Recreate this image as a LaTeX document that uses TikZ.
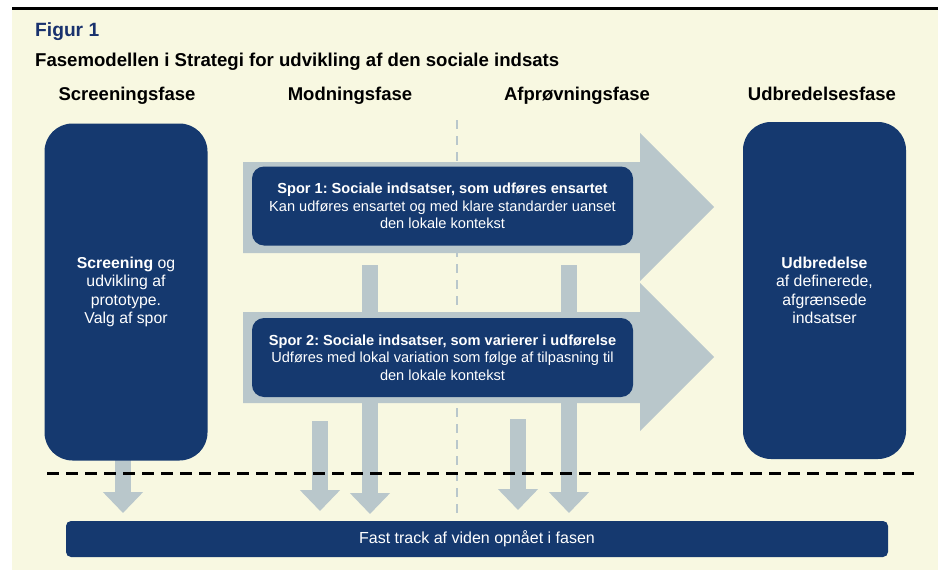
\documentclass[tikz,border=0pt]{standalone}
\usepackage{fontspec}
\setmainfont{Liberation Sans}
\usetikzlibrary{arrows.meta}
\definecolor{cream}{RGB}{248,248,225}
\definecolor{navy}{RGB}{21,57,111}
\definecolor{agray}{RGB}{185,199,203}
\definecolor{tblue}{RGB}{25,50,110}
\frenchspacing
\begin{document}
\begin{tikzpicture}[x=1pt,y=-1pt,
  tall/.style={fill=navy, rounded corners=28pt, minimum width=163pt, minimum height=337pt, text=white, align=center, font=\fontsize{15.8}{18.5}\selectfont, inner sep=0pt},
  sporbox/.style={fill=navy, rounded corners=12pt, minimum width=381pt, minimum height=79pt, text=white, align=center, font=\fontsize{14.6}{17.5}\selectfont, inner sep=0pt},
  phase/.style={font=\bfseries\fontsize{18.5}{20}\selectfont, anchor=base, inner sep=0pt},
  downarrow/.style={draw=agray, line width=15.5pt, -{Triangle[width=39pt,length=21pt]}},
  bigarrow/.style={fill=agray},
]
\useasboundingbox (0,0) rectangle (938,570);
\fill[cream] (12,10) rectangle (938,570);
\draw[line width=3pt] (12,8.5) -- (938,8.5);

\node[anchor=base west, inner sep=0pt, text=tblue, font=\bfseries\fontsize{19.2}{22}\selectfont] (fig) at (35,36) {Figur 1};
\node[anchor=base west, inner sep=0pt, font=\bfseries\fontsize{18.6}{20}\selectfont] (sub) at (35,66) {Fasemodellen i Strategi for udvikling af den sociale indsats};

\node[phase] (h1) at (127,100) {Screeningsfase};
\node[phase] (h2) at (350,100) {Modningsfase};
\node[phase] (h3) at (577,100) {Afprøvningsfase};
\node[phase] (h4) at (822,100) {Udbredelsesfase};

% vertical dashed divider
\coordinate (vt) at (457,120);
\coordinate (vb) at (457,520);
\draw[agray, line width=2.5pt, dash pattern=on 9pt off 7pt] (vt) -- (vb);

% down arrows
\coordinate (a0s) at (123,455); \coordinate (a0e) at (123,513);
\coordinate (a1s) at (320,421); \coordinate (a1e) at (320,511);
\coordinate (a2s) at (370,265); \coordinate (a2e) at (370,514);
\coordinate (a3s) at (518,419); \coordinate (a3e) at (518,510);
\coordinate (a4s) at (569,265); \coordinate (a4e) at (569,513);
\draw[downarrow] (a0s) -- (a0e);
\draw[downarrow] (a1s) -- (a1e);
\draw[downarrow] (a2s) -- (a2e);
\draw[downarrow] (a3s) -- (a3e);
\draw[downarrow] (a4s) -- (a4e);

% big arrows
\fill[bigarrow] (243,162) -- (640,162) -- (640,133) -- (714,207) -- (640,281) -- (640,253) -- (243,253) -- cycle;
\fill[bigarrow] (243,312) -- (640,312) -- (640,283) -- (714,357) -- (640,431) -- (640,403) -- (243,403) -- cycle;

\node[sporbox] (s1) at (442.5,206) {\textbf{Spor 1: Sociale indsatser, som udføres ensartet}\\Kan udføres ensartet og med klare standarder uanset\\den lokale kontekst};
\node[sporbox] (s2) at (442.5,357.5) {\textbf{Spor 2: Sociale indsatser, som varierer i udførelse}\\Udføres med lokal variation som følge af tilpasning til\\den lokale kontekst};

\node[tall] (screen) at (126,292) {\textbf{Screening} og\\udvikling af\\prototype.\\Valg af spor};
\node[tall] (udbr) at (824.5,290.5) {\textbf{Udbredelse}\\af definerede,\\afgrænsede\\indsatser};

% black dashed line
\coordinate (hl) at (47,473);
\coordinate (hr) at (918,473);
\draw[line width=3pt, dash pattern=on 12pt off 7pt] (hl) -- (hr);

\node[fill=navy, rounded corners=5pt, minimum width=822pt, minimum height=36pt, inner sep=0pt, text=white, font=\fontsize{16}{18}\selectfont] (ft) at (477,539) {Fast track af viden opnået i fasen};
\end{tikzpicture}
\end{document}
